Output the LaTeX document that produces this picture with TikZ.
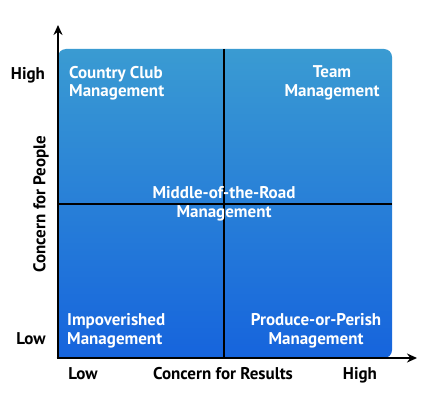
\documentclass[tikz,border=0pt]{standalone}
\usepackage{fontspec}
\setmainfont{PT Sans}
\usetikzlibrary{arrows.meta}
\definecolor{boxtop}{HTML}{3A9BD2}
\definecolor{boxbot}{HTML}{1664DD}
\tikzset{
  quadtext/.style={text=white, font=\bfseries\fontsize{17}{18.5}\selectfont, inner sep=0pt},
  axislabel/.style={text=black, font=\bfseries\fontsize{17}{18.5}\selectfont, inner sep=0pt},
  axisline/.style={line width=2.6pt, -{Stealth[length=10pt,width=9pt]}},
  divider/.style={line width=2.2pt, black}
}
\begin{document}
\begin{tikzpicture}[x=1pt,y=-1pt]
\useasboundingbox (0,0) rectangle (425,406);
% box
\shade[top color=boxtop, bottom color=boxbot]
  (58,358) [rounded corners=8pt] -- (58,49) -- (392,49) -- (392,358) -- (200,358) [sharp corners] -- cycle;
% coordinates
\coordinate (o) at (58,358);
\coordinate (ytip) at (58,25);
\coordinate (xtip) at (417,358);
\coordinate (vtop) at (224,49);
\coordinate (vbot) at (224,358);
\coordinate (hl) at (58,204);
\coordinate (hr) at (392,204);
% dividers
\draw[divider] (vtop) -- (vbot);
\draw[divider] (hl) -- (hr);
% axes
\draw[axisline] ([yshift=1.3pt]o) -- (ytip);
\draw[axisline] ([xshift=-1.3pt]o) -- (xtip);
% quadrant texts
\node[quadtext, anchor=west, align=left] (cc) at (69,83) {Country Club\\Management};
\node[quadtext, align=center] (tm) at (332,83) {Team\\Management};
\node[quadtext, align=center] (mr) at (224,204) {Middle-of-the-Road\\Management};
\node[quadtext, anchor=west, align=left] (im) at (67,331) {Impoverished\\Management};
\node[quadtext, align=center] (pp) at (316,331) {Produce-or-Perish\\Management};
% axis labels
\node[axislabel] (yhigh) at (28,75) {High};
\node[axislabel] (ylow) at (31,339) {Low};
\node[axislabel] (xlow) at (83,374) {Low};
\node[axislabel] (xtitle) at (223,374) {Concern for Results};
\node[axislabel] (xhigh) at (360,375) {High};
\node[axislabel, rotate=90] (ytitle) at (41,204) {Concern for People};
\end{tikzpicture}
\end{document}
